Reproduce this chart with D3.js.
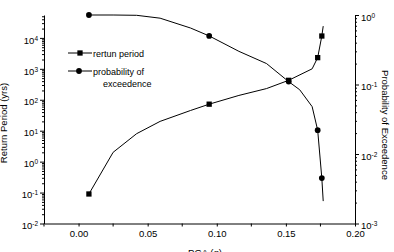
<!DOCTYPE html>
<html>
<head>
<meta charset="utf-8">
<script src="https://cdn.jsdelivr.net/npm/d3@7"></script>
<style>
  body { margin: 0; background: #fff; }
  text { font-family: "Liberation Sans", Arial, sans-serif; fill: #000; }
</style>
</head>
<body>
<div id="chart"></div>
<script>
'use strict';
// return period series (left axis)
var pgaRet = [0.0075, 0.025, 0.042, 0.059, 0.081, 0.0945, 0.116, 0.136, 0.152, 0.169, 0.173, 0.176, 0.177];
var returnPeriod = [0.09, 2, 8, 20, 45, 72, 138, 230, 425, 1000, 2300, 11500, 24000];
var retMarkers = [0, 5, 8, 10, 11];

// probability of exceedence series (right axis)
var pgaProb = [0.0075, 0.025, 0.042, 0.059, 0.081, 0.0945, 0.116, 0.136, 0.152, 0.16, 0.169, 0.173, 0.176, 0.177];
var probability = [1.0, 1.0, 0.99, 0.9, 0.65, 0.5, 0.30, 0.20, 0.11, 0.084, 0.048, 0.022, 0.0045, 0.0021];
var probMarkers = [0, 5, 8, 11, 12];

var xTicks = [0, 0.05, 0.10, 0.15, 0.20];
var xMinor = [-0.025, 0.025, 0.075, 0.125, 0.175];

var width = 394, height = 252;
var plotLeft = 44, plotRight = 355, plotTop = 15, plotBottom = 223.5;

var svg = d3.select('#chart').append('svg')
    .attr('width', width)
    .attr('height', height);

var x = d3.scaleLinear().domain([-0.025, 0.20]).range([plotLeft, plotRight]);
var yL = d3.scaleLog().domain([0.01, Math.pow(10, 4.74)]).range([plotBottom, plotTop]);
var yR = d3.scaleLog().domain([0.001, 1]).range([plotBottom, plotTop]);

var isPow = function (v) {
    var l = Math.log10(v);
    return Math.abs(l - Math.round(l)) < 1e-6;
};

var supLabel = function (sel) {
    sel.each(function (d) {
        var t = d3.select(this);
        t.text(null);
        if (!isPow(d)) return;
        t.append('tspan').text('10');
        t.append('tspan').attr('dy', '-0.45em').attr('font-size', '6.5px')
            .text(Math.round(Math.log10(d)));
    });
};

var styleLog = function (g, dir) {
    g.select('.domain').attr('stroke', '#000');
    g.selectAll('.tick line').attr('stroke', '#000')
        .attr('x2', function (d) { return (isPow(d) ? 4 : 2) * dir; });
    g.selectAll('.tick text').attr('font-size', '9.5px')
        .attr('x', 6 * dir).attr('dy', '0.55em')
        .call(supLabel);
};

// left axis
var lTicks = yL.ticks().filter(function (d) { return d <= yL.domain()[1]; });
svg.append('g')
    .attr('transform', 'translate(' + plotLeft + ',0)')
    .call(d3.axisLeft(yL).tickValues(lTicks).tickSizeOuter(0))
    .call(styleLog, -1);

// right axis
svg.append('g')
    .attr('transform', 'translate(' + plotRight + ',0)')
    .call(d3.axisRight(yR).tickValues(yR.ticks()).tickSizeOuter(0))
    .call(styleLog, 1);

// bottom axis
var gx = svg.append('g')
    .attr('transform', 'translate(0,' + plotBottom + ')')
    .call(d3.axisBottom(x).tickValues(xTicks).tickFormat(d3.format('.2f'))
        .tickSize(3).tickSizeOuter(0));
gx.selectAll('.tick text').attr('font-size', '9.5px').attr('y', 7);
gx.selectAll('line, path').attr('stroke', '#000');
gx.selectAll('.minor').data(xMinor).enter().append('line')
    .attr('x1', function (d) { return x(d); })
    .attr('x2', function (d) { return x(d); })
    .attr('y1', 0).attr('y2', 3)
    .attr('stroke', '#000');

// axis titles
svg.append('text')
    .attr('transform', 'translate(7,123) rotate(-90)')
    .attr('text-anchor', 'middle').attr('font-size', '9.5px')
    .text('Return Period (yrs)');
svg.append('text')
    .attr('transform', 'translate(382,125) rotate(90)')
    .attr('text-anchor', 'middle').attr('font-size', '9.5px')
    .text('Probability of Exceedence');
svg.append('text')
    .attr('x', 205).attr('y', 256)
    .attr('text-anchor', 'middle').attr('font-size', '9.5px')
    .text('PGA (g)');

// lines
var retLine = d3.line()
    .x(function (d, i) { return x(pgaRet[i]); })
    .y(function (d) { return yL(d); });
var probLine = d3.line()
    .x(function (d, i) { return x(pgaProb[i]); })
    .y(function (d) { return yR(d); });

svg.append('path').datum(returnPeriod)
    .attr('d', retLine).attr('fill', 'none').attr('stroke', '#000').attr('stroke-width', 1);
svg.append('path').datum(probability)
    .attr('d', probLine).attr('fill', 'none').attr('stroke', '#000').attr('stroke-width', 1);

var sq = d3.symbol().type(d3.symbolSquare).size(28);
var ci = d3.symbol().type(d3.symbolCircle).size(26);

svg.selectAll('.ret-mark').data(retMarkers).enter().append('path')
    .attr('d', sq)
    .attr('transform', function (i) { return 'translate(' + x(pgaRet[i]) + ',' + yL(returnPeriod[i]) + ')'; })
    .attr('fill', '#000');
svg.selectAll('.prob-mark').data(probMarkers).enter().append('path')
    .attr('d', ci)
    .attr('transform', function (i) { return 'translate(' + x(pgaProb[i]) + ',' + yR(probability[i]) + ')'; })
    .attr('fill', '#000');

// legend
var lg = svg.append('g');
lg.append('line').attr('x1', 68).attr('x2', 92).attr('y1', 53).attr('y2', 53).attr('stroke', '#000');
lg.append('path').attr('d', sq).attr('transform', 'translate(80,53)');
lg.append('text').attr('x', 93).attr('y', 56.5).attr('font-size', '9px').text('rertun period');
lg.append('line').attr('x1', 68).attr('x2', 92).attr('y1', 71).attr('y2', 71).attr('stroke', '#000');
lg.append('path').attr('d', ci).attr('transform', 'translate(79,71)');
lg.append('text').attr('x', 93).attr('y', 74.5).attr('font-size', '9px').text('probability of');
lg.append('text').attr('x', 103).attr('y', 87).attr('font-size', '9px').text('exceedence');
</script>
</body>
</html>
